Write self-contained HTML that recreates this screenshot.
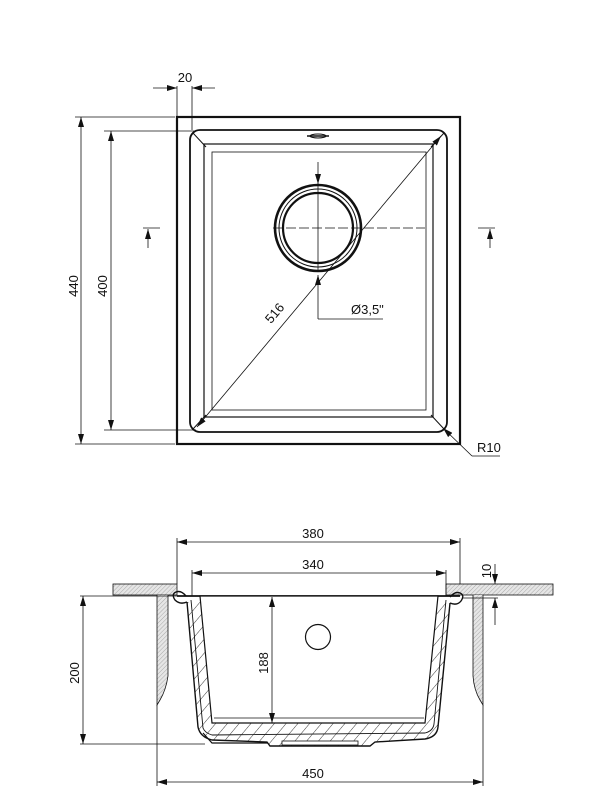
<!DOCTYPE html>
<html><head><meta charset="utf-8"><style>
html,body{margin:0;padding:0;background:#fff;width:600px;height:799px;overflow:hidden}
text{font-family:"Liberation Sans",sans-serif;font-size:13px;fill:#111}
</style></head><body>
<svg width="600" height="799" viewBox="0 0 600 799" xmlns="http://www.w3.org/2000/svg">
<defs>
<marker id="a" viewBox="0 0 10 6" refX="10" refY="3" markerWidth="10" markerHeight="6" orient="auto-start-reverse" markerUnits="userSpaceOnUse"><path d="M0,0 L10,3 L0,6 z" fill="#111"/></marker>
<pattern id="h" width="3" height="3" patternUnits="userSpaceOnUse" patternTransform="rotate(45)"><rect width="3" height="3" fill="#e6e6e6"/><line x1="0" y1="0" x2="0" y2="3" stroke="#999" stroke-width="0.8"/></pattern>
<pattern id="h2" width="9" height="9" patternUnits="userSpaceOnUse" patternTransform="rotate(40)"><rect width="9" height="9" fill="#fff"/><line x1="0" y1="0" x2="0" y2="9" stroke="#222" stroke-width="0.9"/></pattern>
</defs>
<g fill="none" stroke="#111">
<rect x="177" y="117" width="283" height="327" stroke-width="2.2"/>
<rect x="190" y="130" width="257" height="302" rx="10" stroke-width="1.8"/>
<rect x="204" y="144" width="229" height="273" stroke-width="1.2"/>
<rect x="212" y="152" width="214" height="258" stroke-width="0.8"/>
<line x1="193" y1="133" x2="206" y2="147" stroke-width="1"/>
<line x1="444" y1="133" x2="431" y2="147" stroke-width="1"/>
<line x1="193" y1="429" x2="206" y2="415" stroke-width="1"/>
<line x1="444" y1="429" x2="431" y2="415" stroke-width="1"/>
<path d="M307,136 h22" stroke-width="1.5"/>
<ellipse cx="318" cy="136" rx="8" ry="2" stroke-width="1"/>
<circle cx="318" cy="228" r="43" stroke-width="2.6"/>
<circle cx="318" cy="228" r="39" stroke-width="1"/>
<circle cx="318" cy="228" r="35" stroke-width="2.2"/>
<line x1="273" y1="228" x2="425" y2="228" stroke-width="0.8" stroke-dasharray="10,3"/>
<line x1="318" y1="162" x2="318" y2="184" stroke-width="0.8" marker-end="url(#a)"/>
<line x1="318" y1="184" x2="318" y2="270" stroke-width="0.8"/>
<path d="M318,319 V275" stroke-width="0.8" marker-end="url(#a)"/>
<path d="M318,319 H383" stroke-width="0.8"/>
<line x1="197" y1="427" x2="441" y2="136" stroke-width="0.8" marker-start="url(#a)" marker-end="url(#a)"/>
<line x1="177" y1="86" x2="177" y2="117" stroke-width="0.8"/>
<line x1="192" y1="86" x2="192" y2="130" stroke-width="0.8"/>
<line x1="153" y1="88" x2="177" y2="88" stroke-width="0.8" marker-end="url(#a)"/>
<line x1="215" y1="88" x2="192" y2="88" stroke-width="0.8" marker-end="url(#a)"/>
<line x1="75" y1="117" x2="175" y2="117" stroke-width="0.8"/>
<line x1="75" y1="444" x2="175" y2="444" stroke-width="0.8"/>
<line x1="81" y1="117" x2="81" y2="444" stroke-width="0.8" marker-start="url(#a)" marker-end="url(#a)"/>
<line x1="104" y1="131" x2="196" y2="131" stroke-width="0.8"/>
<line x1="104" y1="430" x2="196" y2="430" stroke-width="0.8"/>
<line x1="111" y1="131" x2="111" y2="430" stroke-width="0.8" marker-start="url(#a)" marker-end="url(#a)"/>
<line x1="143" y1="228" x2="160" y2="228" stroke-width="0.8"/>
<line x1="148" y1="248" x2="148" y2="229" stroke-width="0.8" marker-end="url(#a)"/>
<line x1="478" y1="228" x2="495" y2="228" stroke-width="0.8"/>
<line x1="490" y1="248" x2="490" y2="229" stroke-width="0.8" marker-end="url(#a)"/>
<line x1="472" y1="456" x2="443" y2="428" stroke-width="0.8" marker-end="url(#a)"/>
<line x1="472" y1="456" x2="500" y2="456" stroke-width="0.8"/>

<rect x="113" y="584" width="64" height="11" fill="url(#h)" stroke-width="0.8"/>
<rect x="446" y="584" width="107" height="11" fill="url(#h)" stroke-width="0.8"/>
<path d="M157,595 V705 L160,700 Q166,690 168,676 V595" fill="url(#h)" stroke-width="0.8"/>
<path d="M483,595 V705 L480,700 Q474,690 473,676 V595" fill="url(#h)" stroke-width="0.8"/>
<line x1="177" y1="596" x2="460" y2="596" stroke-width="1.8"/>
<path d="M187,602 L198,727 Q200,737 212,740 L267,742 L270,746 L370,746 L375,742 L425,739 Q437,737 438,727 L450,603" fill="url(#h2)" stroke-width="1.4"/>
<path d="M191,600 L203,728 Q205,733 212,735 L425,733 Q433,731 434,724 L446,600" stroke-width="0.9"/>
<path d="M200,596 L212,723 L425,723 L438,596 Z" fill="#fff" stroke-width="1.2"/>
<path d="M203,733 L212,743 L268,743" stroke-width="1.2"/>
<path d="M214,718 L424,718" stroke-width="0.8"/>
<rect x="282" y="741" width="76" height="4" fill="#fff" stroke-width="0.8"/>
<path d="M187,602 Q180,605 175,600 Q171,594 176,592 Q181,590 186,596" stroke-width="1.4"/>
<path d="M450,603 Q457,606 461,601 Q465,595 460,593 Q455,591 450,597" stroke-width="1.4"/>
<circle cx="318" cy="637" r="12.5" stroke-width="1.2"/>
<line x1="177" y1="538" x2="177" y2="584" stroke-width="0.8"/>
<line x1="460" y1="538" x2="460" y2="584" stroke-width="0.8"/>
<line x1="177" y1="542" x2="460" y2="542" stroke-width="0.8" marker-start="url(#a)" marker-end="url(#a)"/>
<line x1="192" y1="570" x2="192" y2="596" stroke-width="0.8"/>
<line x1="446" y1="570" x2="446" y2="596" stroke-width="0.8"/>
<line x1="192" y1="573" x2="446" y2="573" stroke-width="0.8" marker-start="url(#a)" marker-end="url(#a)"/>
<line x1="463" y1="598" x2="498" y2="598" stroke-width="0.8"/>
<line x1="495" y1="564" x2="495" y2="584" stroke-width="0.8" marker-end="url(#a)"/>
<line x1="495" y1="625" x2="495" y2="598" stroke-width="0.8" marker-end="url(#a)"/>
<line x1="80" y1="596" x2="177" y2="596" stroke-width="0.8"/>
<line x1="80" y1="744" x2="205" y2="744" stroke-width="0.8"/>
<line x1="83" y1="596" x2="83" y2="744" stroke-width="0.8" marker-start="url(#a)" marker-end="url(#a)"/>
<line x1="272" y1="597" x2="272" y2="723" stroke-width="0.8" marker-start="url(#a)" marker-end="url(#a)"/>
<line x1="157" y1="705" x2="157" y2="786" stroke-width="0.8"/>
<line x1="483" y1="705" x2="483" y2="786" stroke-width="0.8"/>
<line x1="157" y1="782" x2="483" y2="782" stroke-width="0.8" marker-start="url(#a)" marker-end="url(#a)"/>
</g>
<text x="185" y="82" text-anchor="middle">20</text>
<text transform="translate(78,286) rotate(-90)" text-anchor="middle">440</text>
<text transform="translate(107,286) rotate(-90)" text-anchor="middle">400</text>
<text transform="translate(278,316) rotate(-50)" text-anchor="middle">516</text>
<text x="351" y="314">Ø3,5"</text>
<text x="477" y="452">R10</text>
<text x="313" y="538" text-anchor="middle">380</text>
<text x="313" y="569" text-anchor="middle">340</text>
<text transform="translate(491,571) rotate(-90)" text-anchor="middle">10</text>
<text transform="translate(79,673) rotate(-90)" text-anchor="middle">200</text>
<text transform="translate(268,663) rotate(-90)" text-anchor="middle">188</text>
<text x="313" y="778" text-anchor="middle">450</text>
</svg>
</body></html>
